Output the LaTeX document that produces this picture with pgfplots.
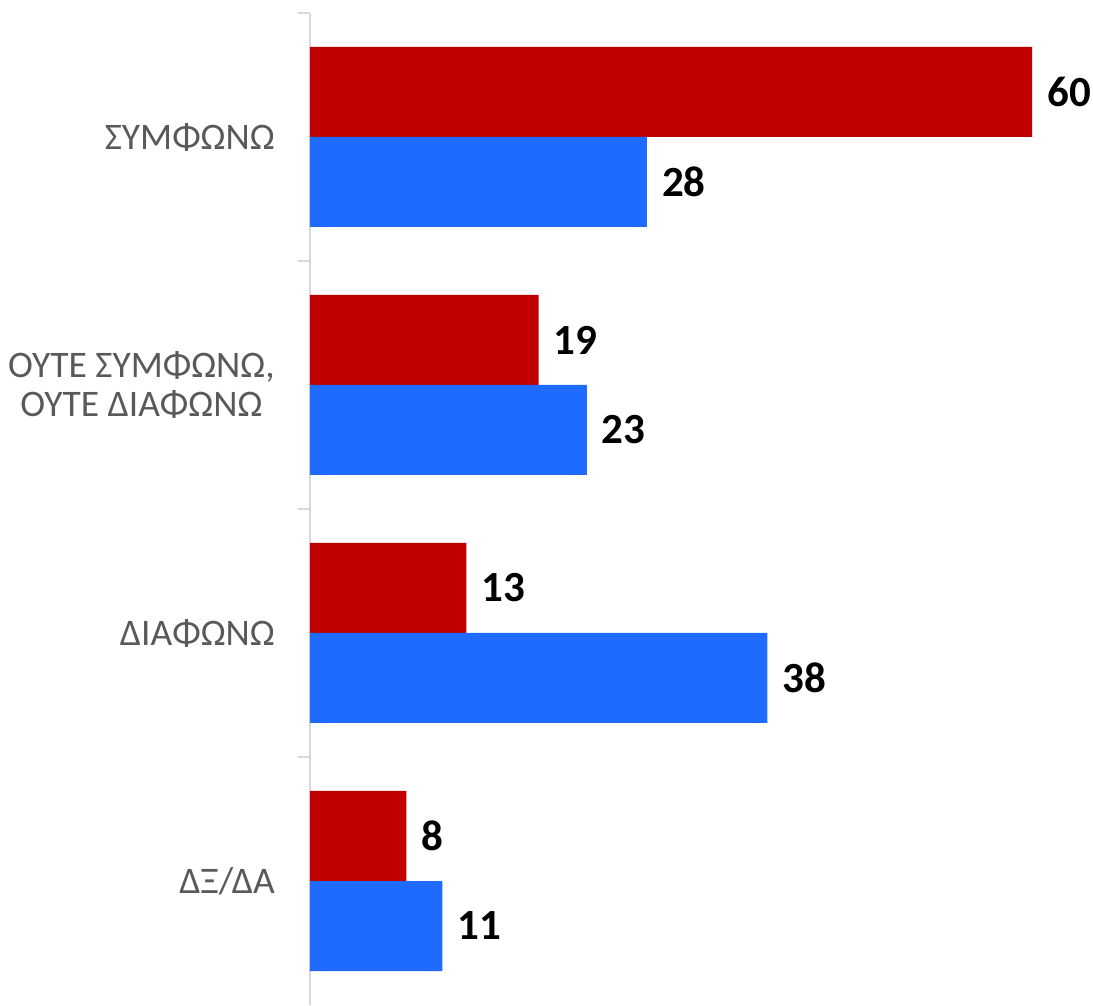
\documentclass[border=0pt]{standalone}
\usepackage{pgfplots}
\pgfplotsset{compat=1.18}
\usepackage{fontspec}
\setmainfont{Carlito}
\definecolor{barred}{HTML}{C00000}
\definecolor{barblue}{HTML}{1F6BFF}
\definecolor{lblgray}{HTML}{595959}
\definecolor{axgray}{HTML}{D9D9D9}
\begin{document}
\begin{tikzpicture}
\begin{axis}[
  scale only axis,
  width=722pt, height=992pt,
  xmin=0, xmax=60,
  ymin=-0.5, ymax=3.5,
  axis x line=none,
  axis y line*=left,
  axis line style={axgray, line width=1.5pt},
  ytick={0,1,2,3},
  yticklabels={{ΔΞ/ΔΑ},{ΔΙΑΦΩΝΩ},{ΟΥΤΕ ΣΥΜΦΩΝΩ,\\ΟΥΤΕ ΔΙΑΦΩΝΩ},{ΣΥΜΦΩΝΩ}},
  major tick length=0pt,
  minor ytick={0.5,1.5,2.5,3.5},
  minor tick length=12pt,
  tick align=outside,
  tick style={axgray, line width=1.5pt},
  yticklabel style={font=\fontsize{37.5}{39}\selectfont, text=lblgray, align=center, inner sep=0pt, xshift=-35pt},
  clip=false,
  point meta=x,
  nodes near coords,
  /pgf/number format/assume math mode=true,
  every node near coord/.append style={font=\fontsize{43}{50}\selectfont\bfseries, text=black, anchor=west, inner sep=0pt, xshift=15pt},
]
\addplot[xbar, bar width=90pt, bar shift=45pt, fill=barred, draw=none,
  every node near coord/.append style={yshift=45pt}] coordinates {(60,3) (19,2) (13,1) (8,0)};
\addplot[xbar, bar width=90pt, bar shift=-45pt, fill=barblue, draw=none,
  every node near coord/.append style={yshift=-45pt}] coordinates {(28,3) (23,2) (38,1) (11,0)};
\coordinate (SW) at (rel axis cs:0,0);
\coordinate (NE) at (rel axis cs:1,1);
\end{axis}
\path[use as bounding box] ([xshift=-310pt,yshift=2pt]SW) rectangle ([xshift=61pt,yshift=13pt]NE);
\end{tikzpicture}
\end{document}
